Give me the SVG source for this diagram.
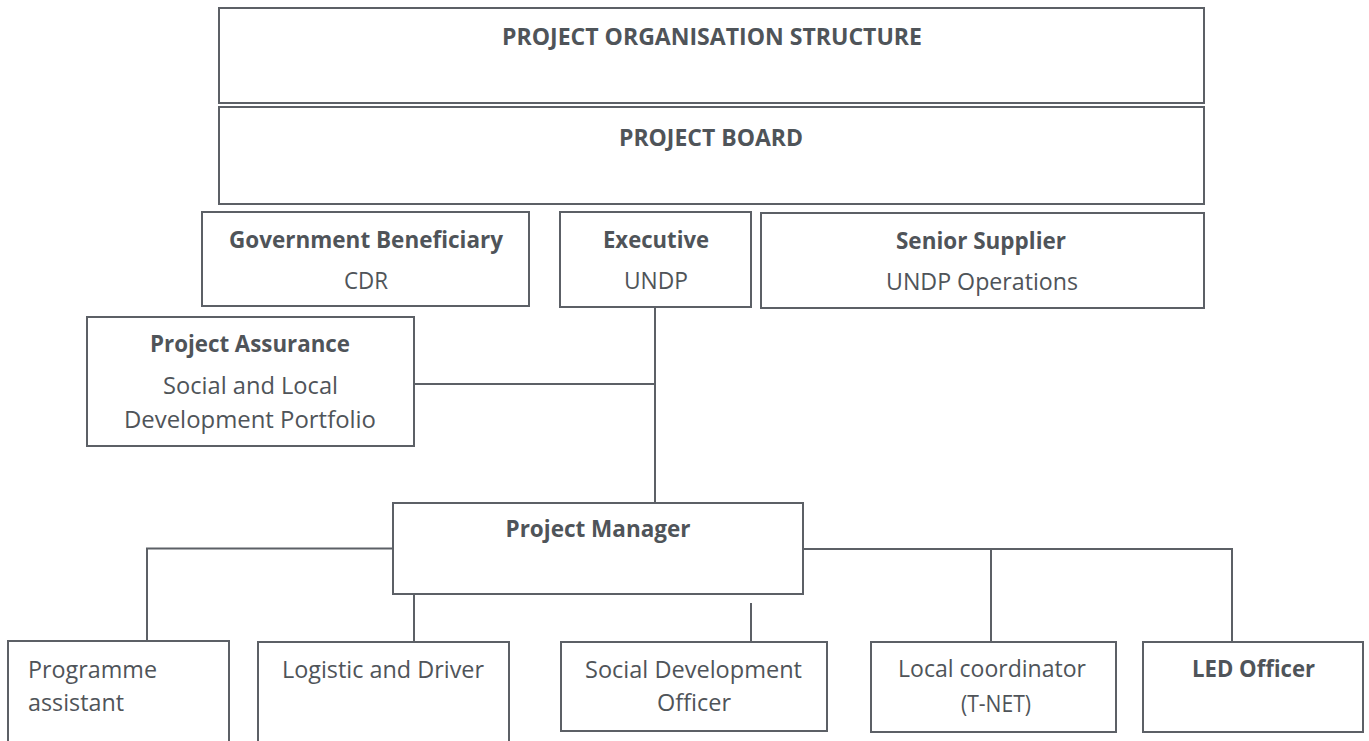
<svg xmlns="http://www.w3.org/2000/svg" width="1369" height="741" viewBox="0 0 1369 741">
  <style>
    .box { fill: #ffffff; stroke: #5c6066; stroke-width: 2; }
    .link { fill: none; stroke: #5c6066; stroke-width: 2; }
    text { font-family: "Open Sans", "Noto Sans", "Liberation Sans", sans-serif; font-size: 23px; fill: #4f5459; }
    .b { font-weight: bold; }
    .c { text-anchor: middle; }
  </style>
  <rect width="1369" height="741" fill="#ffffff"/>

  <!-- reporting lines -->
  <g id="connectors">
    <path class="link" d="M655 307 V503"/>
    <path class="link" d="M414 384 H655"/>
    <path class="link" d="M393 548.5 H147 V641"/>
    <path class="link" d="M414 594 V642"/>
    <path class="link" d="M751 603 V642"/>
    <path class="link" d="M803 549 H1232 V642"/>
    <path class="link" d="M991 549 V642"/>
  </g>

  <g id="title">
    <rect class="box" x="219" y="8" width="985" height="95"/>
    <text class="b c" x="712" y="45" textLength="420" lengthAdjust="spacingAndGlyphs">PROJECT ORGANISATION STRUCTURE</text>
  </g>

  <g id="project-board">
    <rect class="box" x="219" y="107" width="985" height="97"/>
    <text class="b c" x="711" y="146" textLength="184" lengthAdjust="spacingAndGlyphs">PROJECT BOARD</text>
  </g>

  <g id="government-beneficiary">
    <rect class="box" x="202" y="212" width="327" height="94"/>
    <text class="b c" x="366" y="248" textLength="274" lengthAdjust="spacingAndGlyphs">Government Beneficiary</text>
    <text class="c" x="366" y="289" textLength="44" lengthAdjust="spacingAndGlyphs">CDR</text>
  </g>

  <g id="executive">
    <rect class="box" x="560" y="212" width="191" height="95"/>
    <text class="b c" x="656" y="248" textLength="106" lengthAdjust="spacingAndGlyphs">Executive</text>
    <text class="c" x="656" y="289" textLength="64" lengthAdjust="spacingAndGlyphs">UNDP</text>
  </g>

  <g id="senior-supplier">
    <rect class="box" x="761" y="213" width="443" height="95"/>
    <text class="b c" x="981" y="249" textLength="170" lengthAdjust="spacingAndGlyphs">Senior Supplier</text>
    <text class="c" x="982" y="290" textLength="192" lengthAdjust="spacingAndGlyphs">UNDP Operations</text>
  </g>

  <g id="project-assurance">
    <rect class="box" x="87" y="317" width="327" height="129"/>
    <text class="b c" x="250" y="352" textLength="200" lengthAdjust="spacingAndGlyphs">Project Assurance</text>
    <text class="c" x="250.5" y="394" textLength="175" lengthAdjust="spacingAndGlyphs">Social and Local</text>
    <text class="c" x="250" y="428" textLength="252" lengthAdjust="spacingAndGlyphs">Development Portfolio</text>
  </g>

  <g id="project-manager">
    <rect class="box" x="393" y="503" width="410" height="91"/>
    <text class="b c" x="598" y="537" textLength="185" lengthAdjust="spacingAndGlyphs">Project Manager</text>
  </g>

  <g id="programme-assistant">
    <rect class="box" x="8" y="641" width="221" height="112"/>
    <text x="28" y="678" textLength="129" lengthAdjust="spacingAndGlyphs">Programme</text>
    <text x="28" y="711" textLength="96" lengthAdjust="spacingAndGlyphs">assistant</text>
  </g>

  <g id="logistic-driver">
    <rect class="box" x="258" y="642" width="251" height="112"/>
    <text class="c" x="383" y="678" textLength="202" lengthAdjust="spacingAndGlyphs">Logistic and Driver</text>
  </g>

  <g id="social-development-officer">
    <rect class="box" x="561" y="642" width="266" height="89"/>
    <text class="c" x="693.5" y="678" textLength="217" lengthAdjust="spacingAndGlyphs">Social Development</text>
    <text class="c" x="694" y="711" textLength="74" lengthAdjust="spacingAndGlyphs">Officer</text>
  </g>

  <g id="local-coordinator">
    <rect class="box" x="871" y="642" width="245" height="90"/>
    <text class="c" x="992" y="677" textLength="188" lengthAdjust="spacingAndGlyphs">Local coordinator</text>
    <text class="c" x="996" y="712" textLength="70" lengthAdjust="spacingAndGlyphs">(T-NET)</text>
  </g>

  <g id="led-officer">
    <rect class="box" x="1143" y="642" width="220" height="90"/>
    <text class="b c" x="1253.5" y="677" textLength="123" lengthAdjust="spacingAndGlyphs">LED Officer</text>
  </g>
</svg>
